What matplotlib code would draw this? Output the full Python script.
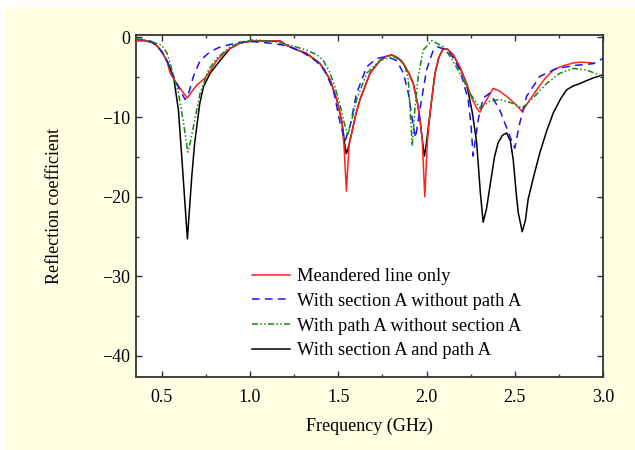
import matplotlib
matplotlib.use('Agg')
import matplotlib.pyplot as plt
from matplotlib.patches import Rectangle
from matplotlib.ticker import MultipleLocator

plt.rcParams['font.family'] = ['Liberation Serif', 'DejaVu Serif']
plt.rcParams['font.size'] = 13

# Data (frequency in GHz, reflection coefficient in dB)
freq_black = [0.352, 0.40, 0.44, 0.47, 0.50, 0.53, 0.566, 0.594, 0.614, 0.63, 0.645, 0.655, 0.67, 0.685,
              0.698, 0.715, 0.736, 0.774, 0.83, 0.887, 0.944, 1.0, 1.076, 1.17, 1.208, 1.26, 1.32, 1.397,
              1.453, 1.491, 1.52, 1.535, 1.545, 1.555, 1.576, 1.60, 1.623, 1.68, 1.736, 1.77, 1.803, 1.84,
              1.869, 1.90, 1.925, 1.95, 1.963, 1.978, 1.988, 1.998, 2.02, 2.048, 2.07, 2.095, 2.12, 2.152,
              2.19, 2.227, 2.26, 2.284, 2.305, 2.321, 2.34, 2.36, 2.385, 2.406, 2.43, 2.454, 2.475, 2.491,
              2.51, 2.52, 2.542, 2.56, 2.576, 2.61, 2.642, 2.68, 2.718, 2.76, 2.793, 2.83, 2.869, 2.91,
              2.944, 3.0]
s11_black = [-0.4, -0.4, -0.6, -1.0, -1.8, -3.0, -4.9, -9.1, -15.3, -20.5, -25.3, -22.1, -17.4, -13.5,
             -11.2, -8.3, -6.2, -4.5, -2.9, -1.4, -0.7, -0.5, -0.45, -0.45, -1.0, -1.5, -2.0, -3.3,
             -5.3, -7.8, -10.5, -13.2, -14.6, -14.0, -12.0, -9.6, -7.8, -4.5, -2.9, -2.4, -2.2, -2.6,
             -3.3, -4.5, -5.8, -8.4, -10.3, -13.2, -14.9, -13.5, -9.5, -4.5, -2.5, -1.4, -1.5, -2.2,
             -3.8, -5.8, -9.5, -13.2, -19.5, -23.2, -21.5, -18.6, -15.0, -13.2, -12.3, -12.0, -13.0, -15.3,
             -20.0, -22.0, -24.4, -23.0, -20.3, -17.2, -14.5, -11.8, -9.5, -7.7, -6.6, -6.1, -5.8, -5.4,
             -5.1, -4.7]

freq_red = [0.352, 0.40, 0.44, 0.47, 0.50, 0.53, 0.547, 0.585, 0.623, 0.645, 0.67, 0.698, 0.745, 0.78,
            0.811, 0.85, 0.887, 0.944, 1.0, 1.076, 1.17, 1.208, 1.26, 1.32, 1.397, 1.453, 1.491, 1.52,
            1.532, 1.546, 1.561, 1.576, 1.60, 1.623, 1.68, 1.736, 1.77, 1.803, 1.84, 1.869, 1.90, 1.925,
            1.95, 1.963, 1.976, 1.99, 2.005, 2.02, 2.048, 2.07, 2.095, 2.12, 2.152, 2.19, 2.227, 2.26,
            2.285, 2.303, 2.32, 2.341, 2.378, 2.41, 2.454, 2.50, 2.542, 2.58, 2.624, 2.67, 2.718, 2.77,
            2.831, 2.88, 2.94]
s11_red = [-0.4, -0.4, -0.6, -1.0, -1.8, -3.0, -4.5, -5.8, -7.0, -7.6, -6.8, -6.0, -5.1, -4.0,
           -2.9, -2.0, -1.4, -0.7, -0.5, -0.45, -0.45, -1.0, -1.5, -2.0, -3.3, -5.3, -7.8, -10.5,
           -13.5, -19.3, -13.5, -12.0, -9.6, -7.8, -4.5, -2.9, -2.4, -2.2, -2.6, -3.3, -4.5, -5.8,
           -8.4, -10.3, -13.0, -20.0, -13.0, -9.5, -4.5, -2.5, -1.4, -1.5, -2.2, -3.8, -5.8, -7.8,
           -8.9, -9.4, -8.6, -7.8, -6.4, -6.7, -7.4, -8.3, -9.3, -8.0, -6.6, -5.2, -4.1, -3.6,
           -3.2, -3.1, -3.2]

freq_blue = [0.352, 0.40, 0.44, 0.47, 0.50, 0.53, 0.566, 0.60, 0.632, 0.655, 0.679, 0.717, 0.774, 0.82,
             0.868, 0.944, 1.0, 1.1, 1.17, 1.227, 1.30, 1.37, 1.42, 1.472, 1.51, 1.538, 1.566, 1.604,
             1.661, 1.717, 1.774, 1.831, 1.869, 1.897, 1.925, 1.938, 1.963, 2.0, 2.038, 2.066, 2.114,
             2.15, 2.189, 2.236, 2.252, 2.264, 2.293, 2.321, 2.359, 2.415, 2.472, 2.5, 2.529, 2.567,
             2.642, 2.737, 2.85, 2.944, 3.0]
s11_blue = [-0.2, -0.3, -0.5, -1.0, -1.8, -3.0, -4.9, -6.5, -7.8, -6.8, -4.9, -2.9, -1.8, -1.3,
            -1.0, -0.6, -0.5, -0.7, -0.9, -1.2, -1.9, -2.9, -4.0, -6.6, -10.7, -13.0, -11.2, -7.0,
            -3.7, -2.65, -2.4, -2.9, -4.5, -7.0, -11.2, -12.6, -9.0, -4.1, -1.6, -1.2, -1.6,
            -2.5, -4.1, -7.8, -11.0, -14.9, -10.3, -7.6, -7.0, -9.1, -12.4, -13.9, -10.7, -7.4,
            -4.9, -3.9, -3.5, -3.3, -2.65]

freq_green = [0.352, 0.40, 0.45, 0.50, 0.53, 0.547, 0.594, 0.623, 0.647, 0.663, 0.679, 0.717, 0.764,
              0.81, 0.887, 0.95, 1.02, 1.08, 1.151, 1.23, 1.32, 1.38, 1.415, 1.45, 1.481, 1.51, 1.529,
              1.553, 1.575, 1.604, 1.661, 1.736, 1.812, 1.86, 1.88, 1.897, 1.91, 1.919, 1.934, 1.953,
              1.981, 2.03, 2.095, 2.14, 2.189, 2.246, 2.303, 2.36, 2.415, 2.491, 2.542, 2.604, 2.68,
              2.755, 2.831, 2.907, 3.0]
s11_green = [-0.2, -0.3, -0.6, -1.0, -2.0, -3.3, -7.0, -10.7, -14.4, -13.0, -11.2, -7.0, -4.1,
             -2.65, -1.2, -0.6, -0.3, -0.4, -0.6, -1.0, -1.6, -2.2, -2.9, -4.3, -6.2, -8.5, -10.3,
             -12.3, -10.5, -7.8, -4.5, -2.9, -2.4, -2.9, -3.8, -5.3, -10.3, -13.6, -9.0, -4.9,
             -1.6, -0.4, -1.2, -2.6, -4.5, -7.0, -8.9, -8.0, -7.8, -8.3, -8.9, -7.6, -5.8,
             -4.5, -3.9, -4.1, -4.9]

labels = ['Meandered line only', 'With section A without path A',
          'With path A without section A', 'With section A and path A']

fig = plt.figure(figsize=(6.35, 4.5), dpi=100)
# light yellow panel behind the plot
fig.patches.append(Rectangle((6 / 635, 0), 1, 443 / 450, transform=fig.transFigure,
                             facecolor='#FEFEE2', edgecolor='none', zorder=-10))
ax = fig.add_axes([135.7 / 635, 73.3 / 450, 467.3 / 635, 341.7 / 450])

lw = 1.1
ax.plot(freq_red, s11_red, color='#FF2020', lw=lw, label=labels[0], zorder=3)
ax.plot(freq_blue, s11_blue, color='#1515F0', lw=lw, ls=(0, (5, 3.5)), label=labels[1], zorder=4)
ax.plot(freq_green, s11_green, color='#108A10', lw=lw, ls=(0, (4, 1.5, 1, 1.5, 1, 1.5)),
        label=labels[2], zorder=4)
ax.plot(freq_black, s11_black, color='black', lw=lw, label=labels[3], zorder=2)

ax.legend(loc='upper left', bbox_to_anchor=(0.248, 0.318), frameon=False,
          borderpad=0, borderaxespad=0, handlelength=2.1, handletextpad=0.35,
          labelspacing=0.42, fontsize=13.3)

ax.set_xlim(0.352, 3.0)
ax.set_ylim(-42.6, 0.3)
ax.xaxis.set_major_locator(MultipleLocator(0.5))
ax.xaxis.set_minor_locator(MultipleLocator(0.25))
ax.yaxis.set_major_locator(MultipleLocator(10))
ax.yaxis.set_minor_locator(MultipleLocator(5))
ax.xaxis.set_major_formatter(matplotlib.ticker.FormatStrFormatter('%.1f'))
ax.tick_params(which='both', direction='in', top=True, right=True, width=1.0, color='#333333')
ax.tick_params(which='major', length=4.5, labelsize=13)
ax.tick_params(axis='x', which='major', pad=9)
ax.tick_params(axis='y', which='major', pad=4)
ax.tick_params(which='minor', length=2.5)
for sp in ax.spines.values():
    sp.set_linewidth(1.3)
    sp.set_color('#333333')

ax.set_xlabel('Frequency (GHz)', fontsize=13, labelpad=8)
ax.set_ylabel('Reflection coefficient', fontsize=13, labelpad=28)

plt.savefig('out.png', dpi=100, facecolor='white')
